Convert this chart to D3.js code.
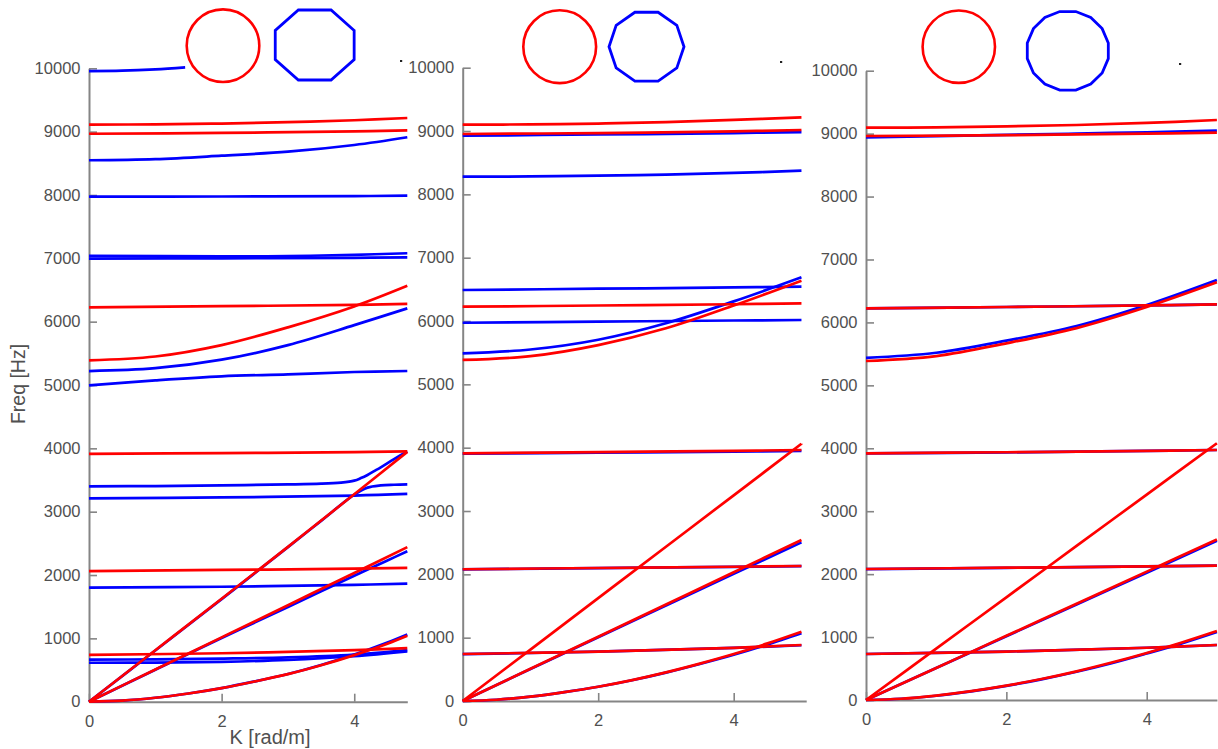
<!DOCTYPE html>
<html>
<head>
<meta charset="utf-8">
<script src="https://cdn.jsdelivr.net/npm/d3@7"></script>
<style>
  html, body { margin: 0; padding: 0; background: #fff; }
  svg { display: block; font-family: "Liberation Sans", Arial, Helvetica, sans-serif; }
</style>
</head>
<body>
<script>
// Dispersion curves: frequency vs wavenumber for a round section (red)
// and polygonal approximations of it (blue): octagon, decagon, 16-gon.

const freqTicks = [0, 1000, 2000, 3000, 4000, 5000, 6000, 7000, 8000, 9000, 10000];
const kTicks = [0, 2, 4];
const polygonSides = [8, 10, 16];

// Panel 1 — octagon (blue) vs circle (red); each curve is [K, Hz] pairs
const p1Blue = [
  [[0, 9955], [0.5, 9962], [1, 9984], [1.45, 10015]],
  [[0, 8548], [1, 8566], [2, 8620], [3, 8683], [4, 8789], [4.8, 8911]],
  [[0, 7973], [2, 7976], [4, 7982], [4.8, 7989]],
  [[0, 7040], [2, 7030], [3, 7035], [4, 7055], [4.8, 7080]],
  [[0, 6995], [2, 7000], [4, 7008], [4.8, 7015]],
  [[0, 5220], [1, 5265], [2, 5400], [3, 5630], [4, 5945], [4.8, 6210]],
  [[0, 4994], [1, 5073], [2, 5137], [3, 5168], [4, 5205], [4.8, 5221]],
  [[0, 3400], [1, 3405], [2, 3415], [3, 3430], [3.5, 3442], [3.8, 3460], [4.0, 3490], [4.1, 3530], [4.2, 3580], [4.3, 3640], [4.4, 3700], [4.6, 3830], [4.8, 3950]],
  [[0, 0], [1, 808], [2, 1620], [3, 2440], [3.5, 2855], [4.0, 3270], [4.2, 3380], [4.4, 3415], [4.6, 3425], [4.8, 3430]],
  [[0, 3210], [2, 3225], [4, 3255], [4.8, 3280]],
  [[0, 1800], [2, 1815], [4, 1845], [4.8, 1865]],
  [[0, 665], [1, 668], [2, 680], [3, 700], [4, 745], [4.8, 815]],
  [[0, 615], [1, 618], [2, 630], [3, 660], [4, 720], [4.8, 795]],
  [[0, 0], [1, 505], [2, 1005], [3, 1495], [3.5, 1745], [4, 1990], [4.5, 2230], [4.8, 2376]],
  [[0, 0], [0.5, 17], [1, 62], [1.5, 130], [2, 215], [2.5, 320], [3, 437], [3.5, 580], [4, 745], [4.5, 935], [4.8, 1062]]
];
const p1Red = [
  [[0, 9110], [1, 9115], [2, 9128], [3, 9150], [4, 9180], [4.8, 9215]],
  [[0, 8967], [2, 8980], [4, 9005], [4.8, 9021]],
  [[0, 6225], [2, 6245], [4, 6265], [4.8, 6280]],
  [[0, 5390], [1, 5450], [2, 5630], [3, 5910], [4, 6240], [4.8, 6565]],
  [[0, 3914], [2, 3925], [4, 3940], [4.8, 3951]],
  [[0, 0], [1, 812], [2, 1625], [3, 2445], [4, 3275], [4.8, 3945]],
  [[0, 0], [1, 508], [2, 1016], [3, 1524], [4, 2032], [4.8, 2440]],
  [[0, 2060], [2, 2080], [4, 2100], [4.8, 2112]],
  [[0, 740], [2, 765], [4, 815], [4.8, 845]],
  [[0, 0], [0.5, 17], [1, 62], [1.5, 130], [2, 215], [2.5, 320], [3, 435], [3.5, 575], [4, 735], [4.5, 915], [4.8, 1040]]
];

// Panel 2 — decagon (blue) vs circle (red)
const p2Blue = [
  [[0, 8926], [2, 8945], [4, 8968], [5, 8984]],
  [[0, 8279], [1, 8283], [2, 8295], [3, 8312], [4, 8338], [5, 8374]],
  [[0, 6490], [2, 6510], [4, 6530], [5, 6542]],
  [[0, 5973], [2, 5990], [4, 6008], [5, 6016]],
  [[0, 5490], [1, 5550], [2, 5705], [3, 5965], [4, 6310], [5, 6690]],
  [[0, 3905], [2, 3920], [4, 3938], [5, 3950]],
  [[0, 0], [1, 505], [2, 1008], [3, 1508], [4, 2008], [5, 2505]],
  [[0, 2078], [2, 2098], [4, 2118], [5, 2130]],
  [[0, 740], [2, 780], [4, 840], [5, 880]],
  [[0, 0], [0.5, 20], [1, 68], [1.5, 139], [2, 225], [2.5, 328], [3, 448], [3.5, 584], [4, 730], [4.5, 893], [5, 1070]]
];
const p2Red = [
  [[0, 9100], [1, 9105], [2, 9118], [3, 9140], [4, 9175], [5, 9217]],
  [[0, 8953], [2, 8968], [4, 8995], [5, 9016]],
  [[0, 6226], [2, 6245], [4, 6265], [5, 6279]],
  [[0, 5385], [1, 5445], [2, 5620], [3, 5885], [4, 6245], [5, 6637]],
  [[0, 3911], [2, 3930], [4, 3950], [5, 3963]],
  [[0, 0], [1, 812], [2, 1624], [3, 2436], [4, 3248], [5, 4062]],
  [[0, 0], [1, 508], [2, 1016], [3, 1524], [4, 2032], [5, 2543]],
  [[0, 2080], [2, 2100], [4, 2120], [5, 2132]],
  [[0, 742], [2, 780], [4, 840], [5, 884]],
  [[0, 0], [0.5, 20], [1, 68], [1.5, 139], [2, 225], [2.5, 330], [3, 452], [3.5, 590], [4, 741], [4.5, 910], [5, 1094]]
];

// Panel 3 — 16-gon (blue) vs circle (red)
const p3Blue = [
  [[0, 8942], [1, 8960], [2, 8980], [3, 9000], [4, 9022], [5, 9047]],
  [[0, 6222], [2, 6245], [4, 6270], [5, 6288]],
  [[0, 5438], [1, 5518], [2, 5710], [3, 5943], [4, 6277], [5, 6674]],
  [[0, 3918], [2, 3935], [4, 3958], [5, 3973]],
  [[0, 0], [1, 507], [2, 1013], [3, 1518], [4, 2022], [5, 2530]],
  [[0, 2080], [2, 2100], [4, 2122], [5, 2135]],
  [[0, 731], [2, 770], [4, 830], [5, 874]],
  [[0, 0], [0.5, 20], [1, 68], [1.5, 138], [2, 224], [2.5, 328], [3, 448], [3.5, 584], [4, 738], [4.5, 900], [5, 1081]]
];
const p3Red = [
  [[0, 9094], [1, 9100], [2, 9115], [3, 9137], [4, 9170], [5, 9217]],
  [[0, 8962], [2, 8975], [4, 9000], [5, 9015]],
  [[0, 6224], [2, 6245], [4, 6270], [5, 6288]],
  [[0, 5387], [1, 5465], [2, 5668], [3, 5910], [4, 6245], [5, 6637]],
  [[0, 3920], [2, 3937], [4, 3958], [5, 3973]],
  [[0, 0], [1, 816], [2, 1632], [3, 2448], [4, 3264], [5, 4080]],
  [[0, 0], [1, 510], [2, 1020], [3, 1530], [4, 2040], [5, 2550]],
  [[0, 2082], [2, 2102], [4, 2122], [5, 2135]],
  [[0, 731], [2, 770], [4, 830], [5, 874]],
  [[0, 0], [0.5, 20], [1, 70], [1.5, 140], [2, 228], [2.5, 333], [3, 455], [3.5, 595], [4, 748], [4.5, 915], [5, 1097]]
];

const W = 1218, H = 749;
const RED = "#ff0000", BLUE = "#0000ff";
const AXIS = "#858585", TEXT = "#505050";

// Plot frames (pixel layout) and header glyph placement for each panel
const panels = [
  { x0: 89, x1: 407.3, kMax: 4.8, yTop: 68.3, yBot: 701.7, blue: p1Blue, red: p1Red,
    circle: { cx: 223, cy: 45.7, r: 36.3 },
    poly: { cx: 314.7, cy: 45, rx: 42.7, ry: 37.9, rot: 22.5 },
    dot: [401, 61] },
  { x0: 462.7, x1: 806.2, kMax: 5.07, yTop: 67.7, yBot: 701, blue: p2Blue, red: p2Red,
    circle: { cx: 559.7, cy: 46.7, r: 36.4 },
    poly: { cx: 646.5, cy: 46.7, rx: 37.5, ry: 36.2, rot: 0 },
    dot: [781, 62] },
  { x0: 866, x1: 1216.9, kMax: 5.0, yTop: 70.7, yBot: 700, blue: p3Blue, red: p3Red,
    circle: { cx: 958.8, cy: 46.7, r: 36.2 },
    poly: { cx: 1067.8, cy: 50.8, rx: 41.3, ry: 40.0, rot: 11.25 },
    dot: [1180, 64] }
];

const svg = d3.select("body").append("svg")
  .attr("width", W).attr("height", H)
  .attr("viewBox", `0 0 ${W} ${H}`);

svg.append("rect").attr("width", W).attr("height", H).attr("fill", "#fff");

const intFmt = d3.format("d");

panels.forEach((p, i) => {
  const x = d3.scaleLinear().domain([0, p.kMax]).range([p.x0, p.x1]);
  const y = d3.scaleLinear().domain([0, 10000]).range([p.yBot, p.yTop]);
  const g = svg.append("g").attr("class", "panel");

  // Axes: MATLAB-style, ticks pointing inward, no box
  const yAxis = g.append("g")
    .attr("transform", `translate(${p.x0},0)`)
    .call(d3.axisLeft(y).tickValues(freqTicks).tickFormat(intFmt)
      .tickSizeInner(-8).tickSizeOuter(0).tickPadding(8.5));
  const xAxis = g.append("g")
    .attr("transform", `translate(0,${p.yBot})`)
    .call(d3.axisBottom(x).tickValues(kTicks).tickFormat(intFmt)
      .tickSizeInner(-8).tickSizeOuter(0).tickPadding(13.5));

  [yAxis, xAxis].forEach(ax => {
    ax.select(".domain").attr("stroke", AXIS).attr("stroke-width", 2);
    ax.selectAll(".tick line").attr("stroke", AXIS).attr("stroke-width", 1.6);
    ax.selectAll(".tick text")
      .attr("fill", TEXT)
      .style("font-size", "16.5px")
      .style("font-family", "'Liberation Sans', Arial, sans-serif");
  });

  const line = d3.line()
    .x(d => x(d[0]))
    .y(d => y(d[1]))
    .curve(d3.curveCatmullRom.alpha(0.5));

  g.append("g").selectAll("path").data(p.blue).join("path")
    .attr("d", line)
    .attr("fill", "none")
    .attr("stroke", BLUE)
    .attr("stroke-width", 2.7)
    .attr("stroke-linejoin", "round");

  g.append("g").selectAll("path").data(p.red).join("path")
    .attr("d", line)
    .attr("fill", "none")
    .attr("stroke", RED)
    .attr("stroke-width", 2.7)
    .attr("stroke-linejoin", "round");

  // Cross-section glyphs above the plot
  g.append("circle")
    .attr("cx", p.circle.cx).attr("cy", p.circle.cy).attr("r", p.circle.r)
    .attr("fill", "none").attr("stroke", RED).attr("stroke-width", 2.6);

  const n = polygonSides[i];
  const verts = d3.range(n).map(j => {
    const a = (p.poly.rot + j * 360 / n) * Math.PI / 180;
    return [p.poly.cx + p.poly.rx * Math.cos(a), p.poly.cy - p.poly.ry * Math.sin(a)];
  });
  g.append("polygon")
    .attr("points", verts.map(v => v.join(",")).join(" "))
    .attr("fill", "none").attr("stroke", BLUE).attr("stroke-width", 2.8)
    .attr("stroke-linejoin", "miter");

  g.append("rect")
    .attr("x", p.dot[0] - 1).attr("y", p.dot[1] - 1)
    .attr("width", 2.2).attr("height", 2)
    .attr("fill", "#222");
});

// Axis titles
svg.append("text")
  .attr("transform", "translate(18.5,384) rotate(-90)")
  .attr("text-anchor", "middle")
  .attr("dy", "0.35em")
  .attr("fill", TEXT)
  .style("font-size", "19.5px")
  .text("Freq [Hz]");

svg.append("text")
  .attr("x", 270).attr("y", 744)
  .attr("text-anchor", "middle")
  .attr("fill", TEXT)
  .style("font-size", "20px")
  .text("K [rad/m]");
</script>
</body>
</html>
